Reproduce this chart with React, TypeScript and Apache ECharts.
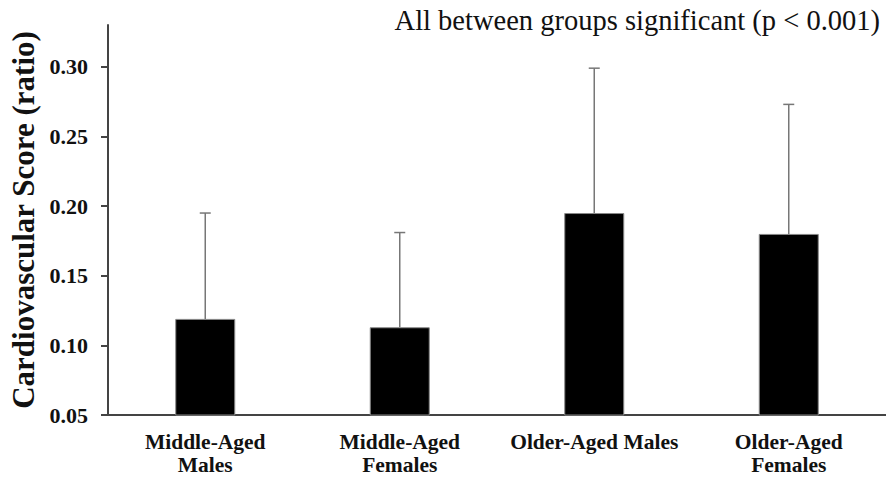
import React, { useEffect, useRef } from "react";
import * as echarts from "echarts";

const categories = ["Middle-Aged\nMales", "Middle-Aged\nFemales", "Older-Aged Males", "Older-Aged\nFemales"];
const means = [0.119, 0.113, 0.195, 0.180];
const upper = [0.195, 0.181, 0.299, 0.273];
const yTicks = [0.05, 0.1, 0.15, 0.2, 0.25, 0.3];
const annotation = "All between groups significant (p < 0.001)";
const yName = "Cardiovascular Score (ratio)";

const FONT = "'Liberation Serif', 'Times New Roman', serif";

export default function App() {
  const ref = useRef<HTMLDivElement>(null);
  useEffect(() => {
    if (!ref.current) return;
    const chart = echarts.init(ref.current, undefined, { renderer: "svg" });
    chart.setOption({
      animation: false,
      backgroundColor: "#ffffff",
      textStyle: { fontFamily: FONT },
      grid: { left: 108, right: 0, top: 25, bottom: 62, outerBoundsMode: "none", containLabel: false },
      graphic: [
        {
          type: "text",
          right: 6,
          top: 6,
          style: { text: annotation, font: `28.5px ${FONT}`, fill: "#111" },
        },
      ],
      xAxis: {
        type: "category",
        data: categories,
        axisLine: { lineStyle: { color: "#444", width: 2 } },
        axisTick: { show: false },
        axisLabel: {
          interval: 0,
          color: "#111",
          fontWeight: "bold",
          fontSize: 21.5,
          lineHeight: 23,
          margin: 15,
          fontFamily: FONT,
        },
      },
      yAxis: {
        type: "value",
        min: 0.05,
        max: 0.33,
        interval: 0.05,
        name: yName,
        nameLocation: "middle",
        nameGap: 67,
        nameTextStyle: { fontSize: 31, fontWeight: "bold", color: "#111", fontFamily: FONT },
        splitLine: { show: false },
        axisLine: { show: true, lineStyle: { color: "#444", width: 2 } },
        axisTick: { show: true, length: 7, customValues: yTicks, lineStyle: { color: "#444", width: 2 } },
        axisLabel: {
          customValues: yTicks,
          color: "#111",
          fontWeight: "bold",
          fontSize: 22,
          margin: 20,
          fontFamily: FONT,
          formatter: (v: number) => v.toFixed(2),
        },
      },
      series: [
        {
          type: "bar",
          data: means,
          barWidth: 60,
          itemStyle: { color: "#000", borderColor: "#888", borderWidth: 1 },
          z: 2,
        },
        {
          type: "custom",
          z: 1,
          data: means.map((m, i) => [i, m, upper[i]]),
          renderItem: (params: any, api: any) => {
            const x = api.value(0);
            const lo = api.coord([x, api.value(1)]);
            const hi = api.coord([x, api.value(2)]);
            const cap = 5.5;
            const style = { stroke: "#777", lineWidth: 1.5 };
            return {
              type: "group",
              children: [
                { type: "line", shape: { x1: lo[0], y1: lo[1], x2: hi[0], y2: hi[1] }, style },
                { type: "line", shape: { x1: hi[0] - cap, y1: hi[1], x2: hi[0] + cap, y2: hi[1] }, style },
              ],
            };
          },
        },
      ],
    });
    return () => chart.dispose();
  }, []);
  return (
    <div
      ref={ref}
      style={{ position: "absolute", left: 0, top: 0, width: 886, height: 477, background: "#fff" }}
    />
  );
}
